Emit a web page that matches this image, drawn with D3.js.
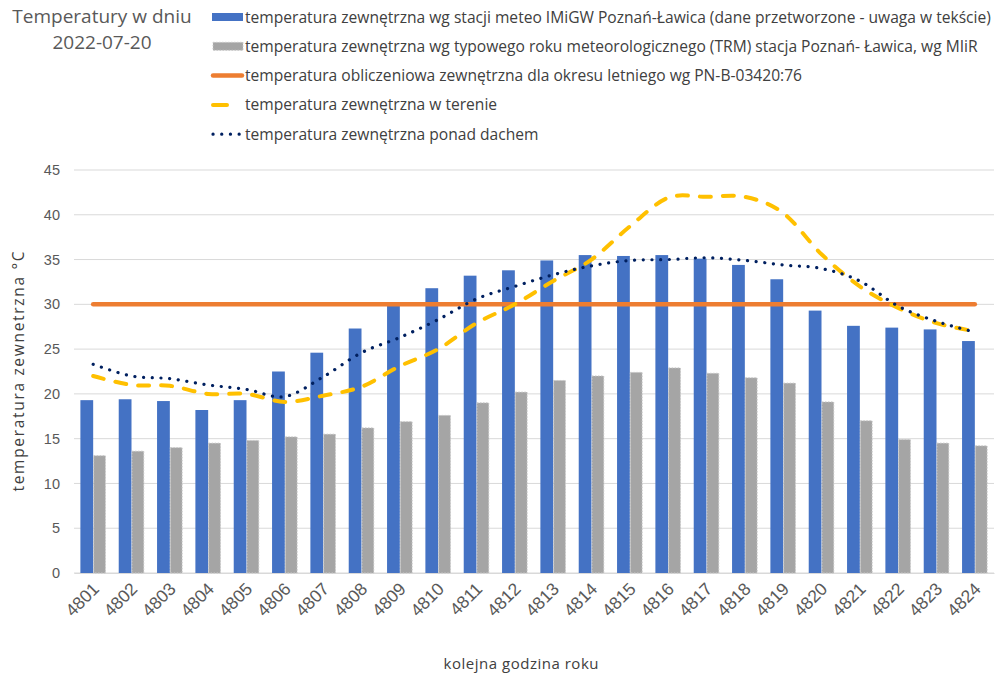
<!DOCTYPE html>
<html>
<head>
<meta charset="utf-8">
<script src="https://cdn.jsdelivr.net/npm/d3@7"></script>
<style>
  body { margin: 0; background: #fff; }
  svg { font-family: 'Open Sans', sans-serif; }
  .tick text { fill: #595959; }
</style>
</head>
<body>
<div class="svg-container"></div>
<script>
// hours of the year (categories)
const hours = ['4801','4802','4803','4804','4805','4806','4807','4808','4809','4810','4811','4812',
  '4813','4814','4815','4816','4817','4818','4819','4820','4821','4822','4823','4824'];

// IMiGW station temperature
const stationTemp = [19.3, 19.4, 19.2, 18.2, 19.3, 22.5, 24.6, 27.3, 30.1, 31.8, 33.2, 33.8,
  34.9, 35.5, 35.4, 35.5, 35.1, 34.4, 32.8, 29.3, 27.6, 27.4, 27.2, 25.9];

// typical meteorological year (TRM)
const trmTemp = [13.1, 13.6, 14.0, 14.5, 14.8, 15.2, 15.5, 16.2, 16.9, 17.6, 19.0, 20.2,
  21.5, 22.0, 22.4, 22.9, 22.3, 21.8, 21.2, 19.1, 17.0, 14.9, 14.5, 14.2];

// design temperature PN-B-03420:76
const designTemp = 30;

// temperature in the field
const fieldTemp = [22.0, 21.0, 20.9, 20.0, 20.0, 19.1, 19.8, 20.8, 23.1, 25.0, 27.9, 30.0,
  32.6, 35.0, 38.7, 41.9, 42.0, 42.0, 40.2, 35.6, 32.0, 29.6, 27.9, 27.0];

// temperature above the roof
const roofTemp = [23.3, 22.0, 21.7, 21.0, 20.5, 19.7, 21.9, 24.6, 26.3, 28.3, 30.6, 32.0,
  33.3, 34.3, 34.9, 35.0, 35.2, 34.9, 34.4, 34.0, 32.6, 29.8, 28.1, 26.9];

const yTicks = [0, 5, 10, 15, 20, 25, 30, 35, 40, 45];

const legendLabels = [
  'temperatura zewnętrzna wg stacji meteo IMiGW Poznań-Ławica (dane przetworzone - uwaga w tekście)',
  'temperatura zewnętrzna wg typowego roku meteorologicznego (TRM) stacja Poznań- Ławica, wg MIiR',
  'temperatura obliczeniowa zewnętrzna dla okresu letniego wg PN-B-03420:76',
  'temperatura zewnętrzna w terenie',
  'temperatura zewnętrzna ponad dachem'
];

const width = 998;
const height = 674;
const margin = { top: 170, right: 4, bottom: 101, left: 74 };

const svg = d3.select('.svg-container')
  .append('svg')
  .attr('width', width)
  .attr('height', height);

// scales
const xScale = d3.scaleBand()
  .domain(hours)
  .range([margin.left, width - margin.right]);

const yScale = d3.scaleLinear()
  .domain([0, 45])
  .range([height - margin.bottom, margin.top]);

const barW = xScale.bandwidth() / 3;
const center = (d) => xScale(d) + xScale.bandwidth() / 2;

// gridlines
svg.append('g')
  .selectAll('line')
  .data(yTicks)
  .join('line')
  .attr('x1', margin.left)
  .attr('x2', width - margin.right)
  .attr('y1', (d) => yScale(d))
  .attr('y2', (d) => yScale(d))
  .attr('stroke', '#d9d9d9')
  .attr('stroke-width', 1);

// y axis
const yAxis = d3.axisLeft(yScale)
  .tickValues(yTicks)
  .tickSize(0)
  .tickPadding(14);

svg.append('g')
  .attr('id', 'y-axis')
  .attr('transform', `translate(${margin.left}, 0)`)
  .call(yAxis)
  .call((g) => g.select('.domain').remove())
  .selectAll('text')
  .style('font-size', '14.5px');

// x axis
const xAxis = d3.axisBottom(xScale).tickSize(0).tickPadding(0);

svg.append('g')
  .attr('id', 'x-axis')
  .attr('transform', `translate(0, ${height - margin.bottom})`)
  .call(xAxis)
  .call((g) => g.select('.domain').attr('stroke', '#d9d9d9'))
  .selectAll('text')
  .style('font-size', '17.5px')
  .attr('text-anchor', 'end')
  .attr('dy', 0)
  .attr('transform', 'translate(7, 17) rotate(-45)');

// bars - station
svg.append('g')
  .selectAll('rect')
  .data(stationTemp)
  .join('rect')
  .attr('x', (d, i) => center(hours[i]) - barW)
  .attr('y', (d) => yScale(d))
  .attr('width', barW)
  .attr('height', (d) => yScale(0) - yScale(d))
  .attr('fill', '#4472c4');

// bars - TRM
svg.append('g')
  .selectAll('rect')
  .data(trmTemp)
  .join('rect')
  .attr('x', (d, i) => center(hours[i]) + 0.5)
  .attr('y', (d) => yScale(d))
  .attr('width', barW - 1)
  .attr('height', (d) => yScale(0) - yScale(d))
  .attr('fill', '#a5a5a5')
  .attr('stroke', '#c8c8c8')
  .attr('stroke-width', 1)
  .attr('stroke-dasharray', '1.5,1.5');

// design temperature line
svg.append('line')
  .attr('x1', center(hours[0]))
  .attr('x2', center(hours[hours.length - 1]))
  .attr('y1', yScale(designTemp))
  .attr('y2', yScale(designTemp))
  .attr('stroke', '#ed7d31')
  .attr('stroke-width', 4.5)
  .attr('stroke-linecap', 'round');

const line = d3.line()
  .x((d, i) => center(hours[i]))
  .y((d) => yScale(d))
  .curve(d3.curveCatmullRom.alpha(0));

// field temperature (dashed)
svg.append('path')
  .datum(fieldTemp)
  .attr('d', line)
  .attr('fill', 'none')
  .attr('stroke', '#ffc000')
  .attr('stroke-width', 4)
  .attr('stroke-linecap', 'round')
  .attr('stroke-dasharray', '11,12');

// roof temperature (dotted)
svg.append('path')
  .datum(roofTemp)
  .attr('d', line)
  .attr('fill', 'none')
  .attr('stroke', '#002060')
  .attr('stroke-width', 3.2)
  .attr('stroke-linecap', 'round')
  .attr('stroke-dasharray', '0.1,8.6');

// axis labels
svg.append('text')
  .text('temperatura zewnetrzna °C')
  .attr('transform', `translate(24, ${yScale(22.5)}) rotate(-90)`)
  .attr('text-anchor', 'middle')
  .attr('textLength', 240)
  .attr('lengthAdjust', 'spacing')
  .style('font-size', '15.5px')
  .attr('fill', '#404040');

svg.append('text')
  .text('kolejna godzina roku')
  .attr('x', 521)
  .attr('y', 669)
  .attr('text-anchor', 'middle')
  .attr('textLength', 155)
  .attr('lengthAdjust', 'spacing')
  .style('font-size', '15px')
  .attr('fill', '#404040');

// title
const title = svg.append('text')
  .attr('text-anchor', 'middle')
  .attr('fill', '#595959')
  .style('font-size', '19px');
title.append('tspan').attr('x', 102).attr('y', 23).text('Temperatury w dniu');
title.append('tspan').attr('x', 102).attr('y', 49).text('2022-07-20');

// legend
const legend = svg.append('g');
const rowY = (i) => 17 + i * 29.3;

legend.append('rect')
  .attr('x', 212).attr('y', rowY(0) - 4).attr('width', 31).attr('height', 8)
  .attr('fill', '#4472c4');
legend.append('rect')
  .attr('x', 213).attr('y', rowY(1) - 4).attr('width', 30).attr('height', 8)
  .attr('fill', '#a5a5a5').attr('stroke', '#c8c8c8').attr('stroke-dasharray', '1.5,1.5');
legend.append('line')
  .attr('x1', 213).attr('x2', 242).attr('y1', rowY(2)).attr('y2', rowY(2))
  .attr('stroke', '#ed7d31').attr('stroke-width', 4.5).attr('stroke-linecap', 'round');
legend.append('line')
  .attr('x1', 213).attr('x2', 227).attr('y1', rowY(3)).attr('y2', rowY(3))
  .attr('stroke', '#ffc000').attr('stroke-width', 4).attr('stroke-linecap', 'round');
legend.append('line')
  .attr('x1', 213).attr('x2', 243).attr('y1', rowY(4)).attr('y2', rowY(4))
  .attr('stroke', '#002060').attr('stroke-width', 3.2).attr('stroke-linecap', 'round')
  .attr('stroke-dasharray', '0.1,8.6');

legend.selectAll('text')
  .data(legendLabels)
  .join('text')
  .text((d) => d)
  .attr('x', 245)
  .attr('y', (d, i) => rowY(i) + 5.5)
  .attr('fill', '#404040')
  .style('font-size', '15.6px');
</script>
</body>
</html>
